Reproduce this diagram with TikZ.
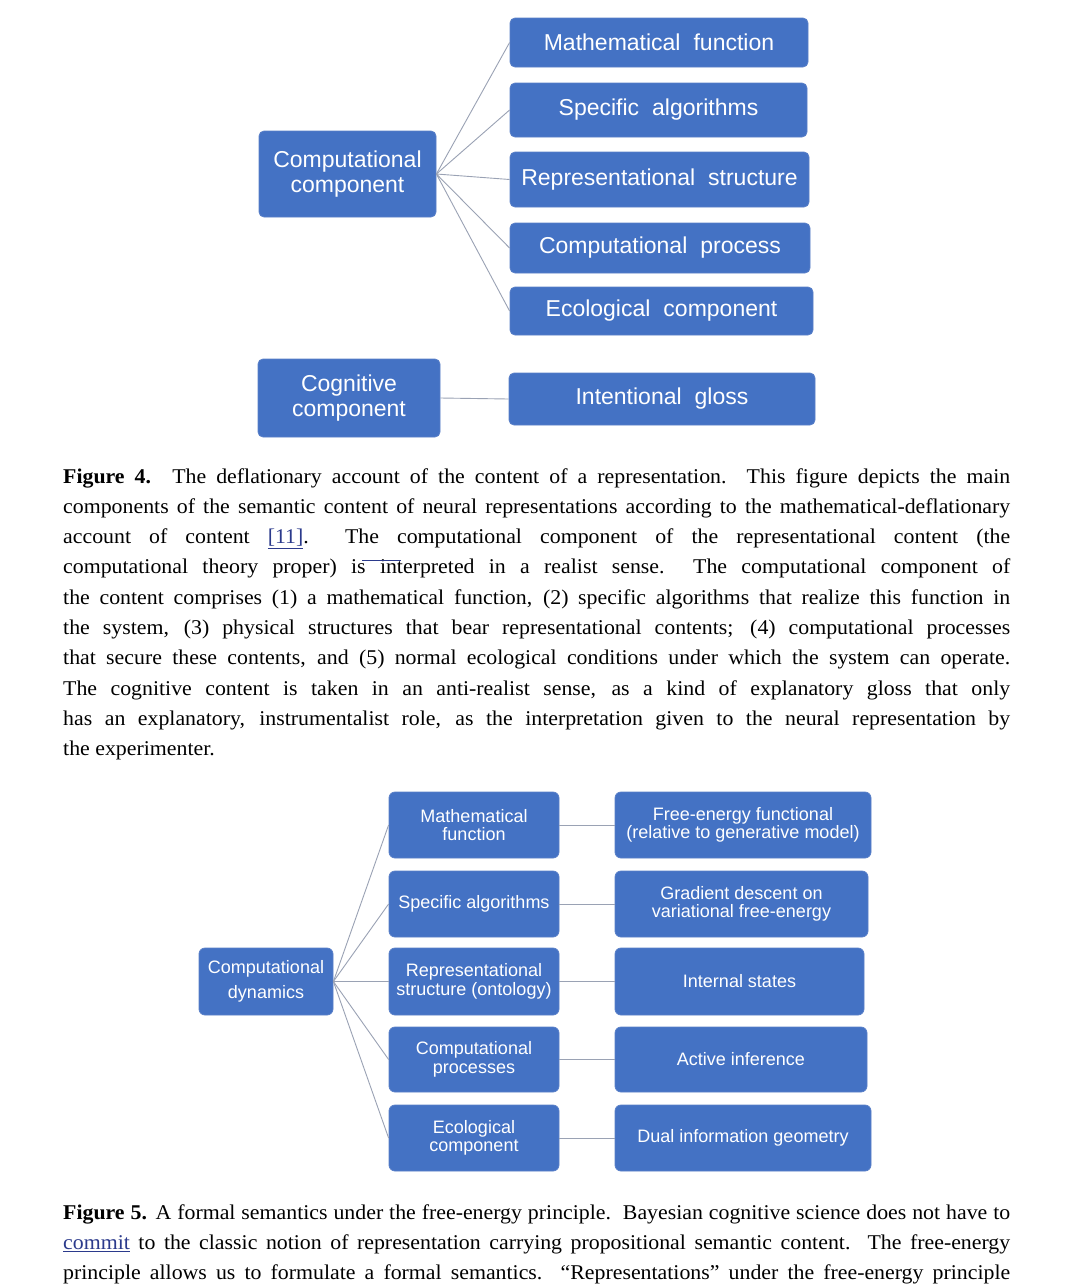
\documentclass[tikz,border=0pt]{standalone}
\usepackage{fontspec}
\setmainfont[FakeStretch=1.04]{Liberation Serif}
\newfontfamily\boxfont{Liberation Sans}
\definecolor{boxblue}{HTML}{4472C4}
\definecolor{boxedge}{HTML}{5A80C8}
\definecolor{linkcol}{HTML}{2B3A8C}
\definecolor{conncol}{HTML}{9AA2B4}
\newcommand{\jline}[1]{\hbox to 947pt{\spaceskip=0pt\xspaceskip=0pt\relax #1}}
\newcommand{\lline}[1]{\hbox to 947pt{\spaceskip=0pt\xspaceskip=0pt\relax #1\hfil}}
\newcommand{\widesp}{\spaceskip=13pt plus 2pt minus 1pt\relax}
\begin{document}
\begin{tikzpicture}[x=1pt,y=-1pt,
  blk/.style={draw=boxedge, line width=0.8pt, fill=boxblue, rounded corners=5pt, text=white, align=center, inner sep=0pt},
  bigbox/.style={blk, font=\boxfont\fontsize{23}{24.5}\selectfont\widesp},
  smallbox/.style={blk, rounded corners=6pt, font=\boxfont\fontsize{18}{18.5}\selectfont},
  dynbox/.style={blk, rounded corners=6pt, font=\boxfont\fontsize{18}{25}\selectfont},
  connline/.style={draw=conncol, line width=0.9pt},
  captext/.style={anchor=base west, inner sep=0pt, text width=947pt, font=\fontsize{21}{30.3}\selectfont}
]
\fill[white] (0,0) rectangle (1080,1286);
\useasboundingbox (0,0) rectangle (1080,1286);

% ---------- Figure 4 ----------
\node[bigbox, minimum width=177, minimum height=86] (cc) at (347.5,174) {Computational\\component};
\node[bigbox, minimum width=298, minimum height=49] (mf) at (659,42.5) {Mathematical function};
\node[bigbox, minimum width=297, minimum height=54] (sa) at (658.5,110) {Specific algorithms};
\node[bigbox, minimum width=299, minimum height=55] (rs) at (659.5,179.5) {Representational structure};
\node[bigbox, minimum width=300, minimum height=50] (cp) at (660,248) {Computational process};
\node[bigbox, minimum width=303, minimum height=48] (ec) at (661.5,311) {Ecological component};
\node[bigbox, minimum width=182, minimum height=78] (cog) at (349,398) {Cognitive\\component};
\node[bigbox, minimum width=306, minimum height=52] (ig) at (662,399) {Intentional gloss};

\foreach \t in {mf,sa,rs,cp,ec} \draw[connline] (cc.east) -- (\t.west);
\draw[connline] (cog.east) -- (ig.west);

\node[captext] (cap4) at (63,483) {%
\jline{\textbf{Figure 4.} The deflationary account of the content of a representation.\ \ This figure depicts the main}
\jline{components of the semantic content of neural representations according to the mathematical-deflationary}
\jline{account of content {\color{linkcol}\underline{[11]}}.\ \ The computational component of the representational content (the}
\jline{computational theory proper) is interpreted in a realist sense.\ \ The computational component of}
\jline{the content comprises (1) a mathematical function, (2) specific algorithms that realize this function in}
\jline{the system, (3) physical structures that bear representational contents; (4) computational processes}
\jline{that secure these contents, and (5) normal ecological conditions under which the system can operate.}
\jline{The cognitive content is taken in an anti-realist sense, as a kind of explanatory gloss that only}
\jline{has an explanatory, instrumentalist role, as the interpretation given to the neural representation by}
\lline{the experimenter.}};
\draw[linkcol, line width=0.8pt] (362,560) -- (401,560);

% ---------- Figure 5 ----------
\node[dynbox, minimum width=134, minimum height=67] (cd) at (266,981.5) {Computational\\dynamics};
\node[smallbox, minimum width=170, minimum height=66] (m1) at (474,825) {Mathematical\\function};
\node[smallbox, minimum width=170, minimum height=66] (m2) at (474,904) {Specific algorithms};
\node[smallbox, minimum width=170, minimum height=67] (m3) at (474,981.5) {Representational\\structure (ontology)};
\node[smallbox, minimum width=170, minimum height=65] (m4) at (474,1059.5) {Computational\\processes};
\node[smallbox, minimum width=170, minimum height=66] (m5) at (474,1138) {Ecological\\component};
\node[smallbox, minimum width=256, minimum height=66] (r1) at (743,825) {Free-energy functional\\(relative to generative model)};
\node[smallbox, minimum width=253, minimum height=66] (r2) at (741.5,904) {Gradient descent on\\variational free-energy};
\node[smallbox, minimum width=249, minimum height=67] (r3) at (739.5,981.5) {Internal states};
\node[smallbox, minimum width=252, minimum height=65] (r4) at (741,1059.5) {Active inference};
\node[smallbox, minimum width=256, minimum height=66] (r5) at (743,1138) {Dual information geometry};

\foreach \i in {1,...,5} {
  \draw[connline] (cd.east) -- (m\i.west);
  \draw[connline] (m\i.east) -- (r\i.west);
}

\node[captext] (cap5) at (63,1219) {%
\jline{\textbf{Figure 5.} A formal semantics under the free-energy principle.\ \ Bayesian cognitive science does not have to}
\jline{{\color{linkcol}\underline{commit}} to the classic notion of representation carrying propositional semantic content.\ \ The free-energy}
\jline{principle allows us to formulate a formal semantics.\ \ “Representations” under the free-energy principle}};
\end{tikzpicture}
\end{document}
